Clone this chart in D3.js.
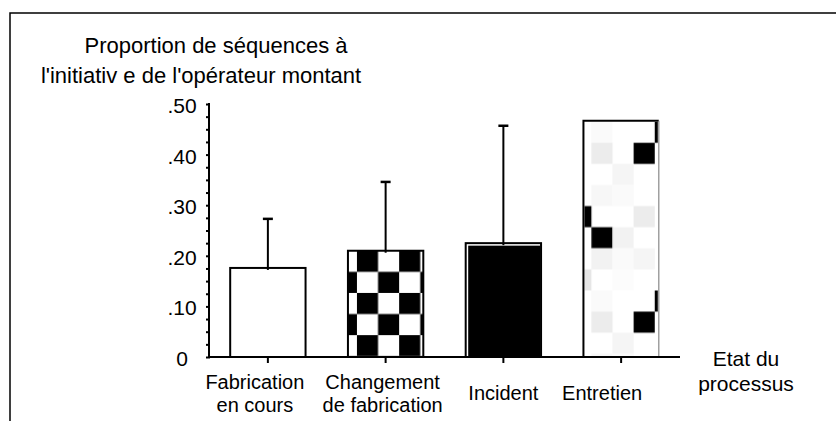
<!DOCTYPE html>
<html>
<head>
<meta charset="utf-8">
<script src="https://cdn.jsdelivr.net/npm/d3@7"></script>
<style>
  html, body { margin: 0; padding: 0; background: #fff; }
  svg { display: block; }
  text { font-family: "Liberation Sans", Arial, sans-serif; fill: #000; }
</style>
</head>
<body>
<svg id="chart" width="836" height="421"></svg>
<script>
// ---- data ----
const categories = ["Fabrication en cours", "Changement de fabrication", "Incident", "Entretien"];
const categoryLabelLines = [["Fabrication", "en cours"], ["Changement", "de fabrication"], ["Incident"], ["Entretien"]];
const values = [0.176, 0.21, 0.225, 0.467];
const errorTops = [0.273, 0.346, 0.457, null];
const yTickValues = [0, 0.1, 0.2, 0.3, 0.4, 0.5];
const yTickLabels = ["0", ".10", ".20", ".30", ".40", ".50"];
const yTitleLines = ["Proportion de séquences à", "l'initiativ e de l'opérateur montant"];
const xTitleLines = ["Etat du", "processus"];

// ---- styling ----
const labelShift = [-13, -3, 0, -19];
const fills = ["white", "url(#checker)", "#000", "url(#sparse)"];

const svg = d3.select("#chart");
const defs = svg.append("defs");

const x = d3.scaleBand().domain(categories).range([209, 680]).paddingInner(0.36).paddingOuter(0.18);
const y = d3.scaleLinear().domain([0, 0.5]).range([357, 104]);
const bw = x.bandwidth();
const s = 21.1;

// frame
svg.append("path").attr("d", "M10,421V13H836").attr("fill", "none").attr("stroke", "#000").attr("stroke-width", 1.5);

// checker pattern
const c1 = x(categories[1]);
const checker = defs.append("pattern").attr("id", "checker").attr("patternUnits", "userSpaceOnUse")
  .attr("x", c1 + 9).attr("y", y(values[1])).attr("width", 2 * s).attr("height", 2 * s);
checker.append("rect").attr("width", 2 * s).attr("height", 2 * s).attr("fill", "#fff");
checker.append("rect").attr("x", 0).attr("y", 0).attr("width", s).attr("height", s).attr("fill", "#000");
checker.append("rect").attr("x", s).attr("y", s).attr("width", s).attr("height", s).attr("fill", "#000");

// sparse pattern (texture of bar 4)
const sparseCells = [
  [0, 1, "#fafafa"], [0, 4, "#000"],
  [1, 1, "#ececec"], [1, 3, "#000"],
  [2, 2, "#f5f5f5"],
  [3, 1, "#f7f7f7"], [3, 2, "#fafafa"],
  [4, 0, "#000"], [4, 3, "#ececec"],
  [5, 1, "#000"], [5, 2, "#f2f2f2"],
  [6, 1, "#f2f2f2"], [6, 2, "#fafafa"], [6, 3, "#f5f5f5"],
  [7, 0, "#e6e6e6"], [7, 2, "#fcfcfc"]
];
const c3 = x(categories[3]);
const sparse = defs.append("pattern").attr("id", "sparse").attr("patternUnits", "userSpaceOnUse")
  .attr("x", c3 + 8 - s).attr("y", y(values[3]) + 1).attr("width", 5 * s).attr("height", 8 * s);
sparse.append("rect").attr("width", 5 * s).attr("height", 8 * s).attr("fill", "#fff");
sparse.selectAll("rect.cell").data(sparseCells).join("rect").attr("class", "cell")
  .attr("x", d => d[1] * s).attr("y", d => d[0] * s).attr("width", s).attr("height", s).attr("fill", d => d[2]);

// bars
const bars = svg.append("g");
categories.forEach((c, i) => {
  const bx = x(c), by = y(values[i]), bh = y(0) - y(values[i]);
  if (i === 2) {
    bars.append("rect").attr("x", bx).attr("y", by).attr("width", bw).attr("height", bh)
      .attr("fill", "#fff").attr("stroke", "#000").attr("stroke-width", 2);
    bars.append("rect").attr("x", bx + 2.5).attr("y", by + 2.5).attr("width", bw - 3).attr("height", bh - 2.5)
      .attr("fill", "#000");
  } else if (i === 3) {
    bars.append("rect").attr("x", bx + 1).attr("y", by + 1).attr("width", bw - 2).attr("height", bh - 1)
      .attr("fill", fills[i]);
    bars.append("path").attr("d", `M${bx},${y(0)}V${by}H${bx + bw}`).attr("fill", "none").attr("stroke", "#000").attr("stroke-width", 2);
    bars.append("path").attr("d", `M${bx + bw},${by}V${y(0)}`).attr("fill", "none").attr("stroke", "#888").attr("stroke-width", 1.2);
  } else {
    bars.append("rect").attr("x", bx).attr("y", by).attr("width", bw).attr("height", bh)
      .attr("fill", fills[i]).attr("stroke", "#000").attr("stroke-width", 2);
  }
});

// error bars
const eb = svg.append("g").attr("stroke", "#000").attr("stroke-width", 2);
categories.forEach((c, i) => {
  if (errorTops[i] == null) return;
  const cx = x(c) + bw / 2;
  eb.append("line").attr("x1", cx).attr("x2", cx).attr("y1", y(values[i]) + 2).attr("y2", y(errorTops[i]));
  eb.append("line").attr("x1", cx - 5).attr("x2", cx + 5).attr("y1", y(errorTops[i])).attr("y2", y(errorTops[i])).attr("stroke-width", 2.5);
});

// y axis
const minorTicks = d3.range(0, 0.5001, 0.025);
const yAxis = d3.axisLeft(y).tickValues(minorTicks).tickSize(3).tickFormat("");
const gy = svg.append("g").attr("transform", "translate(209,0)").call(yAxis);
gy.select(".domain").remove();
gy.selectAll(".tick line").attr("stroke", "#000").attr("stroke-width", 2).attr("x2", -3).attr("x1", 1);
svg.append("line").attr("x1", 209).attr("x2", 209).attr("y1", y(0.5) - 1).attr("y2", y(0) + 1).attr("stroke", "#000").attr("stroke-width", 2);

// y tick labels
svg.append("g").selectAll("text").data(yTickValues).join("text")
  .attr("x", 182).attr("y", d => y(d) + 9)
  .attr("text-anchor", "middle").attr("font-size", 21)
  .text((d, i) => yTickLabels[i]);

// x axis
const xAxis = d3.axisBottom(x).tickSize(6).tickFormat("");
const gx = svg.append("g").attr("transform", `translate(0,${y(0)})`).call(xAxis);
gx.select(".domain").remove();
gx.selectAll(".tick line").attr("stroke", "#000").attr("stroke-width", 2);
svg.append("line").attr("x1", 208).attr("x2", 680).attr("y1", y(0)).attr("y2", y(0)).attr("stroke", "#000").attr("stroke-width", 2);

// x labels
const xl = svg.append("g");
categories.forEach((c, i) => {
  const lines = categoryLabelLines[i];
  const cx = x(c) + bw / 2 + labelShift[i];
  const t = xl.append("text").attr("text-anchor", "middle").attr("font-size", 20);
  if (lines.length === 1) {
    t.append("tspan").attr("x", cx).attr("y", 400).text(lines[0]);
  } else {
    lines.forEach((l, k) => t.append("tspan").attr("x", cx).attr("y", 389 + k * 23).text(l));
  }
});

// x title
svg.append("text").attr("text-anchor", "middle").attr("font-size", 21)
  .selectAll("tspan").data(xTitleLines).join("tspan")
  .attr("x", 746).attr("y", (d, i) => 366 + i * 25).text(d => d);

// y title
svg.append("text").attr("text-anchor", "middle").attr("font-size", 22)
  .selectAll("tspan").data(yTitleLines).join("tspan")
  .attr("x", (d, i) => i === 0 ? 216 : 201).attr("y", (d, i) => 53 + i * 30).text(d => d);
</script>
</body>
</html>
